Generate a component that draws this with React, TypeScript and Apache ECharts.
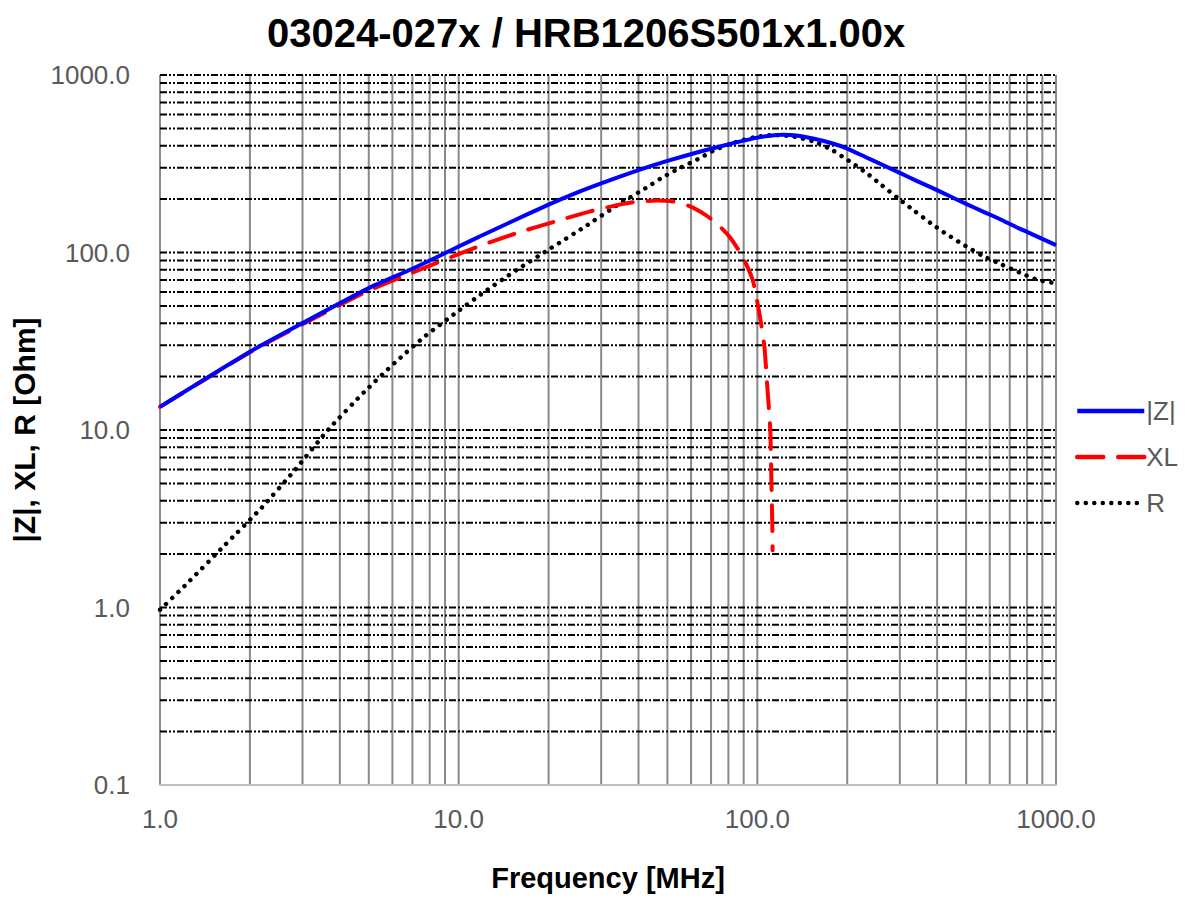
import React, { useEffect, useRef } from "react";
import * as echarts from "echarts";

// ---- Data ----
const titleText = "03024-027x / HRB1206S501x1.00x";
const xAxisName = "Frequency [MHz]";
const yAxisName = "|Z|, XL, R [Ohm]";
const seriesNames = ["|Z|", "XL", "R"];

// |Z|
const freqZ = [1, 2, 3, 5, 7, 10, 12, 15, 20, 25, 30, 40, 50, 65, 85, 100, 110, 122, 135, 155, 180, 200, 230, 260, 300, 340, 390, 440, 500, 570, 650, 730, 830, 1000];
const valZ = [13.5, 27.6, 40, 63, 81, 108, 125, 149, 186, 218, 245, 291, 328, 372, 417, 444, 455, 460, 456, 437, 410, 385, 345, 314, 281, 254, 229, 208, 188, 170, 154, 140, 127, 110];

// XL
const freqXL = [1, 2, 3, 5, 7, 10, 12.7, 16.4, 21.2, 27.4, 35.5, 40, 46, 52, 59, 67, 73, 80.6, 89.3, 96.5, 101.6, 105.5, 108, 110.5, 111.4, 112.2, 112.5];
const valXL = [13.5, 27.4, 39.5, 61, 77, 98, 114, 132, 150, 170, 188, 194, 196, 194, 183, 163, 146, 123, 94.6, 70, 45.4, 30, 17.5, 10, 5.4, 3.0, 2.1];

// R
const freqR = [1, 1.24, 1.65, 2.18, 2.84, 3.67, 4.85, 6.11, 7.74, 10, 12.1, 15.6, 20.4, 26.5, 34.5, 42.2, 48.2, 54.8, 63.1, 72.8, 83.7, 97.7, 114, 133, 155, 178, 202, 231, 262, 296, 335, 381, 433, 497, 567, 653, 752, 871, 1000];
const valR = [0.97, 1.38, 2.25, 3.62, 6.0, 10.1, 16.5, 23.9, 33.9, 47, 59.4, 79.6, 106, 140, 188, 230, 265, 298, 335, 381, 416, 446, 459, 449, 421, 378, 329, 282, 238, 202, 172, 146, 126, 109, 96, 86, 77.3, 70, 67];

// Gridline positions
const vGridFreqs = [1, 2, 3, 4, 5, 6, 7, 8, 9, 10, 20, 30, 40, 50, 60, 70, 80, 90, 100, 200, 300, 400, 500, 600, 700, 800, 900, 1000];
const hGridVals = [0.2, 0.3, 0.4, 0.5, 0.6, 0.7, 0.8, 0.9, 1, 2, 3, 4, 5, 6, 7, 8, 9, 10, 20, 30, 40, 50, 60, 70, 80, 90, 100, 200, 300, 400, 500, 600, 700, 800, 900, 1000];

const X_MIN = 1;
const X_MAX = 1000;
const Y_MIN = 0.1;
const Y_MAX = 1000;

const FONT = "'Liberation Sans', Arial, sans-serif";

function zip(xs: number[], ys: number[]) {
  return xs.map((x, i) => [x, ys[i]]);
}

export default function App() {
  const ref = useRef<HTMLDivElement>(null);

  useEffect(() => {
    if (!ref.current) return;
    const chart = echarts.init(ref.current, undefined, { renderer: "svg" });

    const option: any = {
      animation: false,
      backgroundColor: "#ffffff",
      textStyle: { fontFamily: FONT },
      title: {
        text: titleText,
        left: 262,
        top: 8,
        textStyle: { fontSize: 40, fontWeight: "bold", color: "#000", fontFamily: FONT },
      },
      legend: {
        orient: "vertical",
        left: 1070,
        top: 393,
        itemWidth: 67,
        itemHeight: 14,
        itemGap: 20,
        data: seriesNames,
        itemStyle: { opacity: 0, color: "rgba(0,0,0,0)", borderColor: "rgba(0,0,0,0)", borderWidth: 0 },
        lineStyle: { width: 4.5 },
        textStyle: { fontSize: 26, color: "#595959", fontFamily: FONT, padding: [0, 0, 0, -3] },
      },
      grid: { left: 160, right: 135, top: 75, bottom: 114, containLabel: false },
      xAxis: {
        type: "log",
        logBase: 10,
        min: X_MIN,
        max: X_MAX,
        name: xAxisName,
        nameLocation: "middle",
        nameGap: 78,
        nameTextStyle: { fontSize: 29, fontWeight: "bold", color: "#000", fontFamily: FONT },
        axisLine: { show: true, lineStyle: { color: "#bfbfbf", width: 2 } },
        axisTick: { show: false },
        splitLine: { show: false },
        axisLabel: {
          margin: 21,
          fontSize: 26,
          color: "#595959",
          showMinLabel: true,
          showMaxLabel: true,
          formatter: (v: number) => Number(v).toFixed(1),
        },
      },
      yAxis: {
        type: "log",
        logBase: 10,
        min: Y_MIN,
        max: Y_MAX,
        name: yAxisName,
        nameLocation: "middle",
        nameRotate: 90,
        nameGap: 116,
        nameTextStyle: { fontSize: 30, fontWeight: "bold", color: "#000", fontFamily: FONT },
        axisLine: { show: false },
        axisTick: { show: false },
        splitLine: { show: false },
        axisLabel: {
          margin: 30,
          fontSize: 26,
          color: "#595959",
          showMinLabel: true,
          showMaxLabel: true,
          formatter: (v: number) => Number(v).toFixed(1),
        },
      },
      series: [
        {
          name: "vgrid",
          type: "custom",
          silent: true,
          z: 0,
          data: vGridFreqs.map((f) => [f, Y_MIN]),
          encode: { x: 0, y: 1 },
          renderItem: (params: any, api: any) => {
            const f = api.value(0);
            const p1 = api.coord([f, Y_MIN]);
            const p2 = api.coord([f, Y_MAX]);
            return {
              type: "line",
              silent: true,
              shape: { x1: p1[0], y1: p1[1], x2: p2[0], y2: p2[1] },
              style: { stroke: "#8a8a8a", lineWidth: 2 },
            };
          },
        },
        {
          name: "hgrid",
          type: "custom",
          silent: true,
          z: 1,
          data: hGridVals.map((v) => [X_MIN, v]),
          encode: { x: 0, y: 1 },
          renderItem: (params: any, api: any) => {
            const v = api.value(1);
            const p1 = api.coord([X_MIN, v]);
            const p2 = api.coord([X_MAX, v]);
            return {
              type: "line",
              silent: true,
              shape: { x1: p1[0], y1: p1[1], x2: p2[0], y2: p2[1] },
              style: { stroke: "#000000", lineWidth: 2, lineDash: [7, 2, 2, 2, 2, 2] },
            };
          },
        },
        {
          name: "R",
          type: "line",
          z: 3,
          symbol: "none",
          showSymbol: false,
          smooth: 0.2,
          data: zip(freqR, valR),
          lineStyle: { color: "#000000", width: 4.5, type: [0.01, 8.5], cap: "round" },
          itemStyle: { color: "#000000" },
        },
        {
          name: "XL",
          type: "line",
          z: 4,
          symbol: "none",
          showSymbol: false,
          smooth: 0.2,
          data: zip(freqXL, valXL),
          lineStyle: { color: "#ff0000", width: 4, type: [26, 15], cap: "round" },
          itemStyle: { color: "#ff0000" },
        },
        {
          name: "|Z|",
          type: "line",
          z: 5,
          symbol: "none",
          showSymbol: false,
          smooth: 0.2,
          data: zip(freqZ, valZ),
          lineStyle: { color: "#0000ff", width: 4, type: "solid" },
          itemStyle: { color: "#0000ff" },
        },
      ],
    };

    chart.setOption(option);
    return () => {
      chart.dispose();
    };
  }, []);

  return (
    <div
      ref={ref}
      style={{ position: "fixed", left: 0, top: 0, width: 1191, height: 899, background: "#fff" }}
    />
  );
}
